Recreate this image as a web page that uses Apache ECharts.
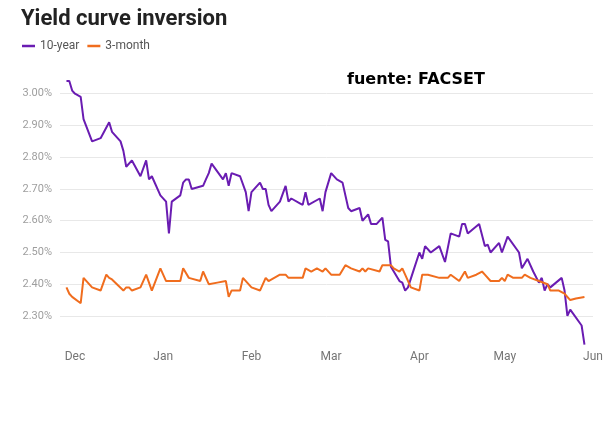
<!DOCTYPE html>
<html>
<head>
<meta charset="utf-8">
<script src="https://cdn.jsdelivr.net/npm/echarts@6/dist/echarts.min.js"></script>
<style>html,body{margin:0;padding:0;background:#fff}#c{width:613px;height:442px}</style>
</head>
<body>
<div id="c"></div>
<script>
// Day offsets from 2018-12-01 and values
var tenYearDays = [-3,-2,-1,0,2,3,6,9,12,13,16,17,18,20,23,25,26,27,30,32,33,34,37,38,39,40,41,45,46,47,48,52,53,54,55,58,60,61,62,65,66,67,68,69,72,74,75,76,79,80,81,82,86,87,88,90,92,94,96,97,100,101,103,104,106,108,109,110,111,112,114,115,116,117,119,121,122,123,125,128,130,132,135,136,137,138,142,144,145,146,149,150,152,156,157,159,161,163,164,165,166,167,171,172,173,174,178,179];
var tenYearValues = [3.04,3.04,3.01,3.00,2.99,2.92,2.85,2.86,2.91,2.88,2.85,2.82,2.77,2.79,2.74,2.79,2.73,2.74,2.68,2.66,2.56,2.66,2.68,2.72,2.73,2.73,2.70,2.71,2.73,2.75,2.78,2.73,2.75,2.71,2.75,2.74,2.69,2.63,2.69,2.72,2.70,2.70,2.65,2.63,2.66,2.71,2.66,2.67,2.655,2.65,2.69,2.65,2.67,2.63,2.69,2.75,2.73,2.72,2.64,2.63,2.64,2.60,2.62,2.59,2.59,2.61,2.54,2.535,2.455,2.44,2.41,2.405,2.38,2.39,2.445,2.50,2.48,2.52,2.50,2.52,2.47,2.56,2.55,2.59,2.59,2.56,2.59,2.52,2.525,2.50,2.53,2.50,2.55,2.50,2.45,2.48,2.44,2.405,2.42,2.38,2.40,2.39,2.42,2.38,2.30,2.32,2.27,2.21];
var threeMonthDays = [-3,-2,-1,2,3,6,9,11,12,13,17,18,19,20,23,25,27,30,32,37,38,40,44,45,47,50,53,54,55,58,59,62,65,67,68,72,74,75,80,81,83,85,87,88,90,93,95,97,100,101,102,103,107,108,111,112,114,115,116,118,121,122,124,128,131,132,135,137,138,141,143,144,146,149,150,151,152,154,157,158,160,163,166,167,170,172,174,176,179];
var threeMonthValues = [2.39,2.37,2.36,2.34,2.42,2.39,2.38,2.43,2.42,2.415,2.38,2.39,2.39,2.38,2.39,2.43,2.38,2.45,2.41,2.41,2.45,2.42,2.41,2.44,2.40,2.405,2.41,2.36,2.38,2.38,2.42,2.39,2.38,2.42,2.41,2.43,2.43,2.42,2.42,2.45,2.44,2.45,2.44,2.45,2.43,2.43,2.46,2.45,2.44,2.45,2.44,2.45,2.44,2.46,2.46,2.45,2.44,2.45,2.43,2.39,2.38,2.43,2.43,2.42,2.42,2.43,2.41,2.44,2.42,2.43,2.44,2.43,2.41,2.41,2.42,2.41,2.43,2.42,2.42,2.43,2.42,2.41,2.40,2.38,2.38,2.37,2.35,2.355,2.36];
var monthTickDays = [0,31,62,90,121,151,182];
var monthLabels = ['Dec','Jan','Feb','Mar','Apr','May','Jun'];
var seriesNames = ['10-year','3-month'];

function pairs(days, vals){ return days.map(function(d,i){ return [d, vals[i]]; }); }

var chart = echarts.init(document.getElementById('c'), null, {renderer:'canvas'});
chart.setOption({
  animation: false,
  backgroundColor: '#fff',
  title: {
    text: 'Yield curve inversion',
    left: 21, top: 8, padding: 0,
    textStyle: {fontFamily: 'Roboto', fontWeight: 'bold', fontSize: 22, color: '#222'}
  },
  legend: {
    data: seriesNames,
    left: 22, top: 40, padding: 0,
    icon: 'rect', itemWidth: 13, itemHeight: 2.5, itemGap: 8,
    textStyle: {fontFamily: 'Roboto', fontSize: 12, color: '#555'}
  },
  graphic: [{
    type: 'text', left: 347, top: 72,
    style: {text: 'fuente: FACSET', fontFamily: 'DejaVu Sans', fontWeight: 'bold', fontSize: 16, fill: '#000'}
  }],
  grid: {left: 60, right: 20, top: 62, bottom: 94.3, containLabel: false, outerBoundsMode: 'none'},
  xAxis: {
    type: 'value',
    min: -5.27, max: 182,
    axisLine: {show: false},
    axisTick: {show: false},
    splitLine: {show: false},
    axisLabel: {
      customValues: monthTickDays,
      showMinLabel: true, showMaxLabel: true,
      margin: 3,
      fontFamily: 'Roboto', fontSize: 12, color: '#757575',
      formatter: function(v){
        var i = monthTickDays.indexOf(v);
        return i >= 0 ? monthLabels[i] : '';
      }
    }
  },
  yAxis: {
    type: 'value',
    min: 2.2, max: 3.1, interval: 0.1,
    axisLine: {show: false},
    axisTick: {show: false},
    splitLine: {show: true, showMinLine: false, showMaxLine: false, lineStyle: {color: '#e8e8e8', width: 1}},
    axisLabel: {
      showMinLabel: false, showMaxLabel: false,
      margin: 8,
      fontFamily: 'Roboto', fontSize: 11, color: '#9e9e9e',
      formatter: function(v){ return v.toFixed(2) + '%'; }
    }
  },
  series: [
    {name: seriesNames[0], type: 'line', data: pairs(tenYearDays, tenYearValues), showSymbol: false, symbol: 'none',
     lineStyle: {color: '#6a1cb2', width: 2}, itemStyle: {color: '#6a1cb2'}},
    {name: seriesNames[1], type: 'line', data: pairs(threeMonthDays, threeMonthValues), showSymbol: false, symbol: 'none',
     lineStyle: {color: '#f06d1e', width: 2}, itemStyle: {color: '#f06d1e'}}
  ]
});
</script>
</body>
</html>
